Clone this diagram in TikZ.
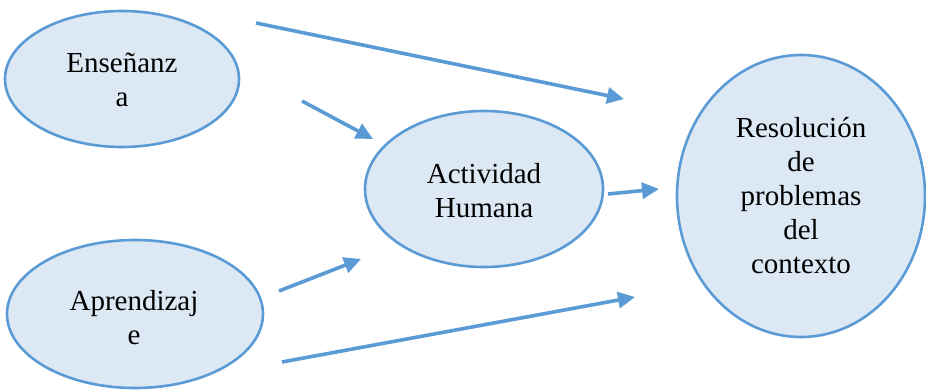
\documentclass[tikz,border=0pt]{standalone}
\usepackage{fontspec}
\setmainfont{Liberation Serif}
\usetikzlibrary{arrows.meta}
\definecolor{edgeblue}{HTML}{5B9BD5}
\definecolor{fillblue}{HTML}{DDE8F5}
\tikzset{
  bubble/.style={draw=edgeblue, fill=fillblue, line width=2.6pt, inner sep=0pt},
  label/.style={font=\fontsize{29}{34}\selectfont, align=center, text=black},
  flow/.style={draw=edgeblue, line width=3.6pt, -{Triangle[length=17pt,width=16pt]}}
}
\begin{document}
\begin{tikzpicture}[x=1pt,y=-1pt]
\useasboundingbox (0,0) rectangle (926,390);
% ellipses
\draw[bubble] (122,79) ellipse [x radius=117, y radius=68];
\draw[bubble] (135,314) ellipse [x radius=128, y radius=74];
\draw[bubble] (484,189) ellipse [x radius=119, y radius=78];
\draw[bubble] (801,196) ellipse [x radius=124, y radius=141];
% labels
\node[label] (ens) at (122,80) {Enseñanz\\a};
\node[label] (apr) at (134,318) {Aprendizaj\\e};
\node[label] (act) at (484,191) {Actividad\\Humana};
\node[label] (res) at (801,196) {Resolución\\de\\problemas\\del\\contexto};
% connector end points
\coordinate (a1s) at (256,23);  \coordinate (a1e) at (624,99);
\coordinate (a2s) at (302,101); \coordinate (a2e) at (373,139);
\coordinate (a3s) at (608,194); \coordinate (a3e) at (659,189);
\coordinate (a4s) at (279,291); \coordinate (a4e) at (361,259);
\coordinate (a5s) at (282,362); \coordinate (a5e) at (635,297);
\draw[flow] (a1s) -- (a1e);
\draw[flow] (a2s) -- (a2e);
\draw[flow] (a3s) -- (a3e);
\draw[flow] (a4s) -- (a4e);
\draw[flow] (a5s) -- (a5e);
\end{tikzpicture}
\end{document}
